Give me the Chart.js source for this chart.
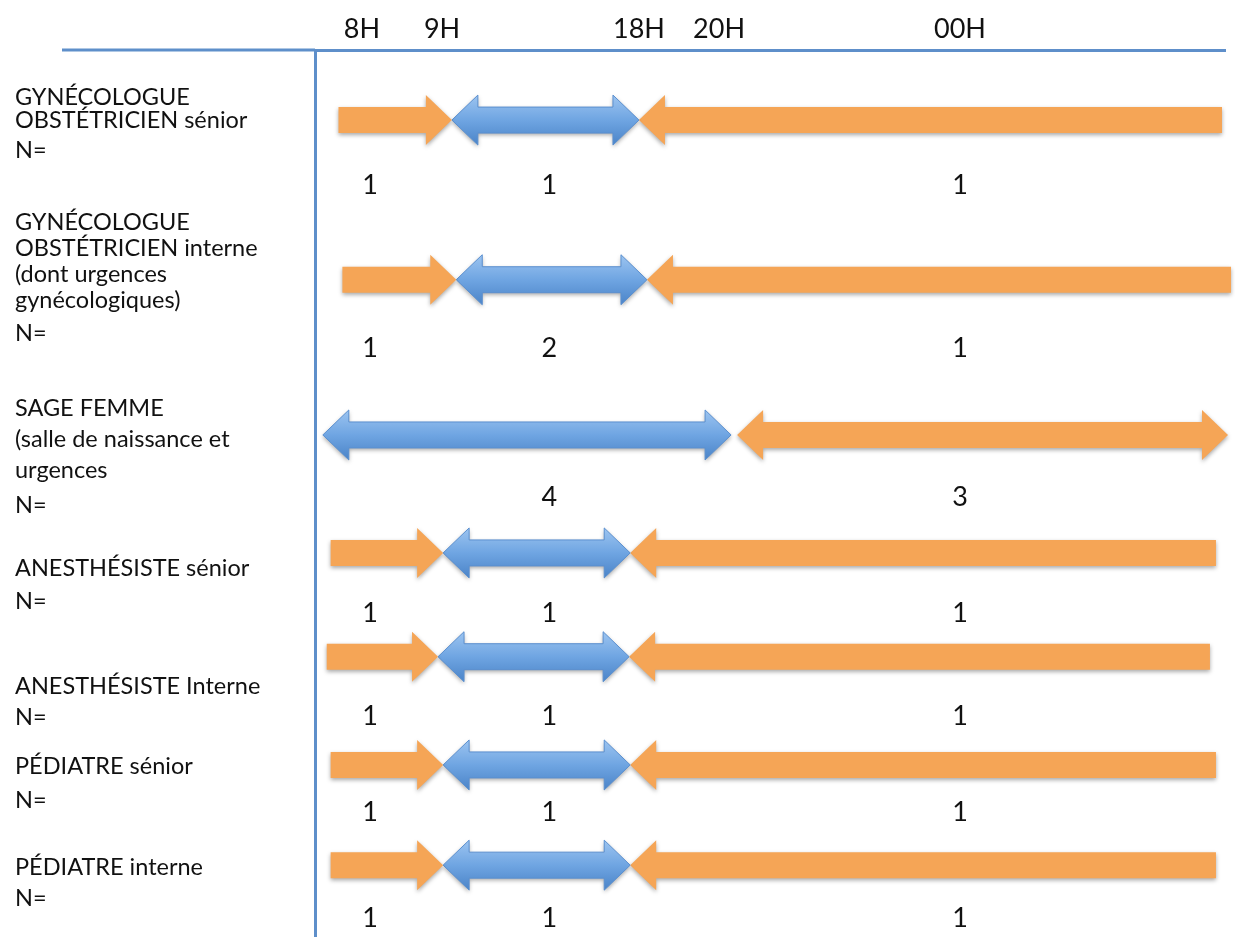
<!DOCTYPE html>
<html>
<head>
<meta charset="utf-8">
<script src="https://cdn.jsdelivr.net/npm/chart.js@4.4.1/dist/chart.umd.min.js"></script>
<style>
  html, body { margin: 0; padding: 0; background: #fff; }
  #wrap { width: 1235px; height: 937px; }
</style>
</head>
<body>
<div id="wrap"><canvas id="planning" width="1235" height="937"></canvas></div>
<script>
// one row per staff category
var roles = [
  ['GYNÉCOLOGUE', 'OBSTÉTRICIEN sénior'],
  ['GYNÉCOLOGUE', 'OBSTÉTRICIEN interne', '(dont urgences', 'gynécologiques)'],
  ['SAGE FEMME', '(salle de naissance et', 'urgences'],
  ['ANESTHÉSISTE sénior'],
  ['ANESTHÉSISTE Interne'],
  ['PÉDIATRE sénior'],
  ['PÉDIATRE interne']
];
var hourTicks = [8, 9, 18, 20, 24];
var hourLabels = ['8H', '9H', '18H', '20H', '00H'];

// shift bounds in hours (past 24 = next morning)
var morningStart = [7.7, 7.75, null, 7.6, 7.55, 7.6, 7.6];
var morningEnd   = [9.45, 9.65, null, 9.05, 8.95, 9.05, 9.05];
var dayStart     = [9.45, 9.65, 7.5, 9.05, 8.95, 9.05, 9.05];
var dayEnd       = [18.0, 18.2, 20.2, 17.6, 17.55, 17.6, 17.6];
var nightStart   = [18.0, 18.2, 20.3, 17.6, 17.55, 17.6, 17.6];
var nightEnd     = [28.35, 28.5, 28.45, 28.25, 28.15, 28.25, 28.25];

// staff on duty (N=)
var morningCount = [1, 1, null, 1, 1, 1, 1];
var dayCount     = [1, 2, 4, 1, 1, 1, 1];
var nightCount   = [1, 1, 3, 1, 1, 1, 1];

// ---- layout ----
// the time axis is schematic: hour -> fraction of plot width
var hourStops = [7.4, 8, 9, 18, 20, 24, 28.4];
var fracStops = [0, 0.0516, 0.1396, 0.356, 0.444, 0.7088, 1];
// vertical positions, 0 = top rule, 100 = bottom
var arrowY  = [7.9, 25.9, 43.4, 56.7, 68.4, 80.6, 91.9];
var nameY   = [6.6, 23.8, 43.9, 58.4, 71.8, 80.8, 92.2];
var nameGap = [23, 26, 31, 26, 26, 26, 26];
var eqY     = [11.3, 31.9, 51.3, 62.2, 75.3, 84.6, 95.6];
var countY  = [15.2, 33.6, 50.4, 63.5, 75.1, 85.9, 97.9];
var countX  = [8.1, 13.9, 24];
var nightHeads = ['start', 'start', 'both', 'start', 'start', 'start', 'start'];

var ORANGE = '#f5a556';
var RULE = '#5e8fca';
var INK = '#111';

function interp(v, from, to) {
  var i = 0;
  while (i < from.length - 2 && v > from[i + 1]) i++;
  var t = (v - from[i]) / (from[i + 1] - from[i]);
  return to[i] + t * (to[i + 1] - to[i]);
}

class ShiftScale extends Chart.LinearScale {
  getPixelForValue(value) {
    return this.getPixelForDecimal(interp(value, hourStops, fracStops));
  }
  getValueForPixel(pixel) {
    return interp(this.getDecimalForPixel(pixel), fracStops, hourStops);
  }
}
ShiftScale.id = 'shift';
ShiftScale.defaults = {};
Chart.register(ShiftScale);

function segments(start, end, heads) {
  var out = [];
  for (var i = 0; i < roles.length; i++) {
    if (start[i] == null) continue;
    out.push({ x: [start[i], end[i]], y: arrowY[i], heads: typeof heads === 'string' ? heads : heads[i] });
  }
  return out;
}

function arrowPath(ctx, x0, x1, y, bh, hl, hh, heads) {
  var hs = heads === 'start' || heads === 'both';
  var he = heads === 'end' || heads === 'both';
  ctx.beginPath();
  if (hs) {
    ctx.moveTo(x0, y);
    ctx.lineTo(x0 + hl, y - hh);
    ctx.lineTo(x0 + hl, y - bh);
  } else {
    ctx.moveTo(x0, y - bh);
  }
  if (he) {
    ctx.lineTo(x1 - hl, y - bh);
    ctx.lineTo(x1 - hl, y - hh);
    ctx.lineTo(x1, y);
    ctx.lineTo(x1 - hl, y + hh);
    ctx.lineTo(x1 - hl, y + bh);
  } else {
    ctx.lineTo(x1, y - bh);
    ctx.lineTo(x1, y + bh);
  }
  if (hs) {
    ctx.lineTo(x0 + hl, y + bh);
    ctx.lineTo(x0 + hl, y + hh);
  } else {
    ctx.lineTo(x0, y + bh);
  }
  ctx.closePath();
}

var arrowPlugin = {
  id: 'shiftArrows',
  beforeDraw: function (chart) {
    // the top rule runs on over the label column
    var ctx = chart.ctx, a = chart.chartArea;
    ctx.save();
    ctx.strokeStyle = RULE;
    ctx.lineWidth = 3;
    ctx.beginPath();
    ctx.moveTo(62, a.top);
    ctx.lineTo(a.left, a.top);
    ctx.stroke();
    ctx.restore();
  },
  beforeDatasetDraw: function (chart, args) {
    var ctx = chart.ctx;
    var ds = chart.data.datasets[args.index];
    args.meta.data.forEach(function (bar, j) {
      var p = bar.getProps(['x', 'y', 'base', 'height'], true);
      var x0 = Math.min(p.x, p.base), x1 = Math.max(p.x, p.base);
      var hh = 25;
      ctx.save();
      arrowPath(ctx, x0, x1, p.y, p.height / 2, 26, hh, ds.data[j].heads);
      ctx.shadowColor = 'rgba(0,0,0,0.35)';
      ctx.shadowBlur = 4;
      ctx.shadowOffsetY = 2;
      if (ds.blue) {
        var g = ctx.createLinearGradient(0, p.y - hh, 0, p.y + hh);
        g.addColorStop(0, '#9cc4f0');
        g.addColorStop(0.5, '#6fa5e2');
        g.addColorStop(1, '#4b84c8');
        ctx.fillStyle = g;
      } else {
        ctx.fillStyle = ORANGE;
      }
      ctx.fill();
      if (ds.blue) {
        ctx.shadowColor = 'transparent';
        ctx.strokeStyle = '#5a8fcf';
        ctx.lineWidth = 1;
        ctx.stroke();
      }
      ctx.restore();
    });
    return false;
  },
  afterDatasetsDraw: function (chart) {
    var ctx = chart.ctx, xs = chart.scales.x, ys = chart.scales.y;
    ctx.save();
    ctx.font = '27px Lato';
    ctx.fillStyle = INK;
    ctx.textAlign = 'center';
    ctx.textBaseline = 'middle';
    [morningCount, dayCount, nightCount].forEach(function (arr, k) {
      arr.forEach(function (n, i) {
        if (n == null) return;
        ctx.fillText(String(n), xs.getPixelForValue(countX[k]), ys.getPixelForValue(countY[i]));
      });
    });
    ctx.restore();
  }
};

new Chart(document.getElementById('planning'), {
  type: 'bar',
  data: {
    datasets: [
      { label: 'matin', data: segments(morningStart, morningEnd, 'end'), blue: false },
      { label: 'jour', data: segments(dayStart, dayEnd, 'both'), blue: true },
      { label: 'garde', data: segments(nightStart, nightEnd, nightHeads), blue: false }
    ]
  },
  options: {
    indexAxis: 'y',
    responsive: false,
    animation: false,
    events: [],
    devicePixelRatio: 1,
    layout: { padding: { left: 15, right: 10, top: 0, bottom: 0 } },
    datasets: { bar: { barThickness: 26, grouped: false } },
    plugins: { legend: { display: false }, tooltip: { enabled: false } },
    scales: {
      x: {
        type: 'shift',
        position: 'top',
        offset: false,
        min: hourStops[0],
        max: hourStops[hourStops.length - 1],
        grid: { display: false, drawTicks: false },
        border: { display: true, color: RULE, width: 3 },
        afterBuildTicks: function (scale) {
          scale.ticks = hourTicks.map(function (v) { return { value: v }; });
        },
        afterFit: function (scale) {
          scale.height = 50;
          scale.paddingLeft = 0;
          scale.paddingRight = 0;
        },
        ticks: {
          autoSkip: false,
          maxRotation: 0,
          padding: 5,
          color: INK,
          font: { family: 'Lato', size: 27, lineHeight: 1.2 },
          callback: function (v, i) { return hourLabels[i]; }
        }
      },
      y: {
        type: 'linear',
        reverse: true,
        offset: false,
        min: 0,
        max: 100,
        grid: { display: false, drawTicks: false, offset: false },
        border: { display: true, color: RULE, width: 3 },
        afterBuildTicks: function (scale) {
          var t = [];
          roles.forEach(function (r, i) {
            t.push({ value: nameY[i] });
            t.push({ value: eqY[i] });
          });
          scale.ticks = t;
        },
        afterFit: function (scale) {
          scale.width = 300;
          scale.paddingTop = 0;
          scale.paddingBottom = 0;
        },
        ticks: {
          autoSkip: false,
          crossAlign: 'far',
          color: INK,
          font: function (c) {
            var i = c.index;
            return { family: 'Lato', size: 23.5, lineHeight: (i % 2 ? 28 : nameGap[i >> 1]) + 'px' };
          },
          callback: function (v, i) { return i % 2 ? 'N=' : roles[i >> 1]; }
        }
      }
    }
  },
  plugins: [arrowPlugin]
});
</script>
</body>
</html>
